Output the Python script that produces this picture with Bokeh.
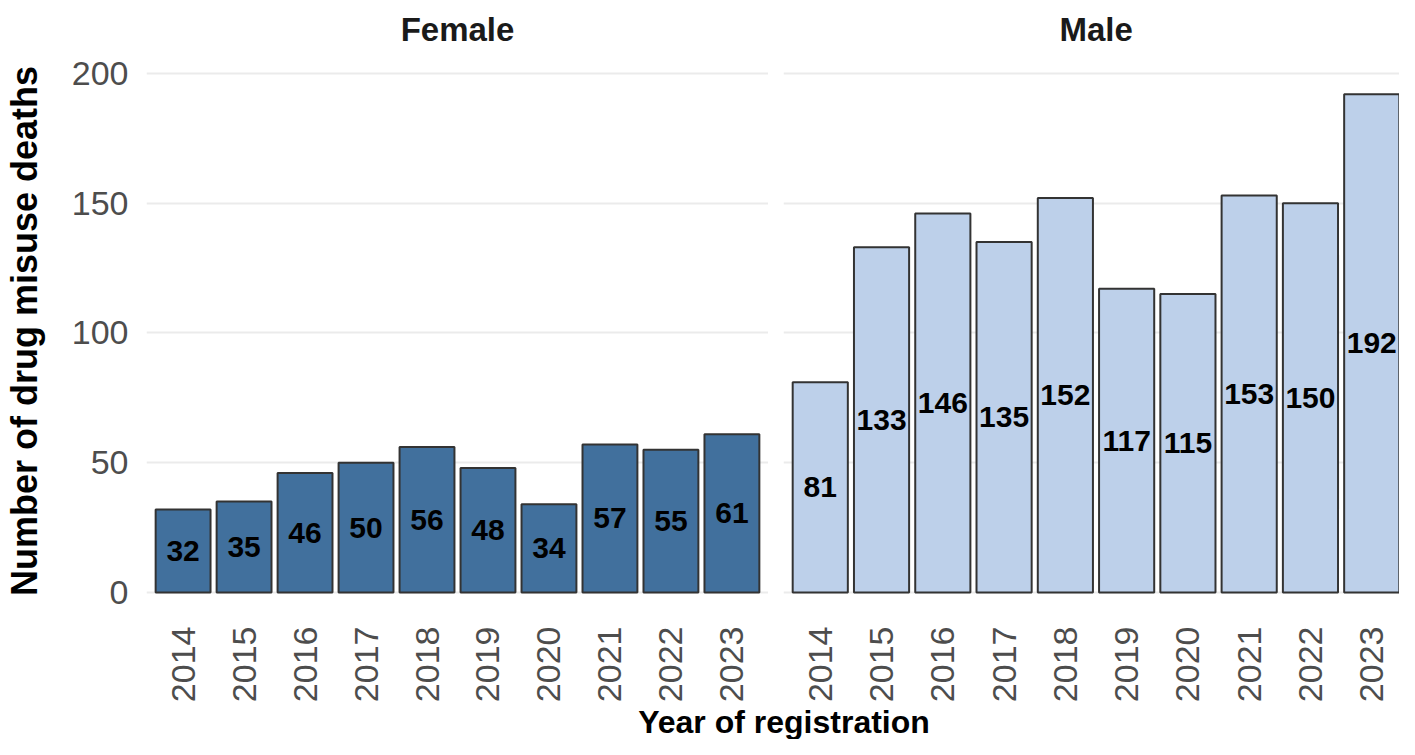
import math
from bokeh.plotting import figure
from bokeh.models import FixedTicker, Label, ColumnDataSource, Range1d
from bokeh.layouts import row, column
from bokeh.embed import file_html
from bokeh.resources import INLINE
from bokeh.core.properties import value

# ---- data ----
years = [2014, 2015, 2016, 2017, 2018, 2019, 2020, 2021, 2022, 2023]
female = [32, 35, 46, 50, 56, 48, 34, 57, 55, 61]
male = [81, 133, 146, 135, 152, 117, 115, 153, 150, 192]
y_ticks = [0, 50, 100, 150, 200]
panel_names = ["Female", "Male"]
y_title = "Number of drug misuse deaths"
x_title = "Year of registration"

# ---- style ----
FONT = "Liberation Sans"
FEMALE_COLOR = "#41709d"
MALE_COLOR = "#bdd0ea"
GRID_COLOR = "#ebebeb"
TICK_COLOR = "#4d4d4d"

TOTAL_W = 1399
TOTAL_H = 739
X_START = years[0] - 0.6
X_END = years[-1] + 0.6
FRAME_W = 625
PX_PER_UNIT = FRAME_W / (X_END - X_START)
FRAME_H = 572
TOP = 47
BOTTOM = 86
FIG_H = TOP + FRAME_H + BOTTOM
LEFT1 = 143
FIG1_W = LEFT1 + FRAME_W
GAP = 15


def make_panel(name, counts, color, width, left_border, x_end, show_y,
               title_offset=None):
    src = ColumnDataSource(dict(year=years, count=counts,
                                mid=[c / 2 for c in counts],
                                lab=[str(c) for c in counts]))
    p = figure(width=width, height=FIG_H, output_backend="svg",
               toolbar_location=None,
               x_range=Range1d(X_START, x_end), y_range=Range1d(-8.5, 210),
               min_border_left=left_border, min_border_right=0,
               min_border_top=TOP, min_border_bottom=BOTTOM)
    p.outline_line_color = None
    p.background_fill_color = "white"
    p.border_fill_color = "white"
    p.xgrid.visible = False
    p.ygrid.grid_line_color = GRID_COLOR
    p.ygrid.grid_line_width = 2

    p.vbar(x="year", top="count", bottom=0, width=0.9, source=src,
           fill_color=color, line_color="#333333", line_width=2)
    p.text(x="year", y="mid", text="lab", source=src,
           text_font=value(FONT), text_font_style="bold",
           text_font_size="30px", text_color="black",
           text_align="center", text_baseline="middle")

    p.xaxis.ticker = FixedTicker(ticks=years)
    p.yaxis.ticker = FixedTicker(ticks=y_ticks)
    for ax in (p.xaxis, p.yaxis):
        ax.axis_line_color = None
        ax.major_tick_line_color = None
        ax.minor_tick_line_color = None
        ax.major_label_text_font = FONT
        ax.major_label_text_font_size = "34px"
        ax.major_label_text_color = TICK_COLOR
    p.xaxis.major_label_orientation = math.pi / 2
    p.xaxis.major_label_standoff = 6
    if show_y:
        p.yaxis.axis_label = y_title
        p.yaxis.axis_label_text_font = FONT
        p.yaxis.axis_label_text_font_size = "36px"
        p.yaxis.axis_label_text_font_style = "bold"
        p.yaxis.axis_label_text_color = "black"
        p.yaxis.major_label_standoff = 12
        p.yaxis.axis_label_standoff = 24
    else:
        p.yaxis.visible = False

    p.title.text = name
    p.title.text_font = FONT
    p.title.text_font_style = "bold"
    p.title.text_font_size = "33px"
    p.title.text_color = "#1a1a1a"
    p.title.standoff = 0
    if title_offset is None:
        p.title.align = "center"
    else:
        p.title.align = "left"
        p.title.offset = title_offset
    return p


p1 = make_panel(panel_names[0], female, FEMALE_COLOR, FIG1_W, LEFT1, X_END,
                True)
fig2_w = TOTAL_W - FIG1_W
male_visible_px = fig2_w - GAP
# centre "Male" over the full (partly cut) panel
male_center_px = FRAME_W / 2
male_title_w = 73
p2 = make_panel(panel_names[1], male, MALE_COLOR, fig2_w, GAP,
                X_START + male_visible_px / PX_PER_UNIT, False,
                title_offset=male_center_px - male_title_w / 2)

p3_h = TOTAL_H - FIG_H
p3 = figure(width=TOTAL_W, height=p3_h, output_backend="svg",
            toolbar_location=None, x_range=Range1d(0, TOTAL_W),
            y_range=Range1d(0, p3_h), min_border=0,
            x_axis_location=None, y_axis_location=None)
p3.outline_line_color = None
p3.xgrid.visible = False
p3.ygrid.visible = False
p3.add_layout(Label(x=LEFT1 + FRAME_W + GAP / 2 + 8, y=18, x_units="screen",
                    y_units="screen",
                    text=x_title, text_font=FONT, text_font_style="bold",
                    text_font_size="32px", text_color="black",
                    text_align="center", text_baseline="middle"))

layout = column(row(p1, p2, spacing=0), p3, spacing=0)
open("out.html", "w").write(file_html(layout, INLINE))
